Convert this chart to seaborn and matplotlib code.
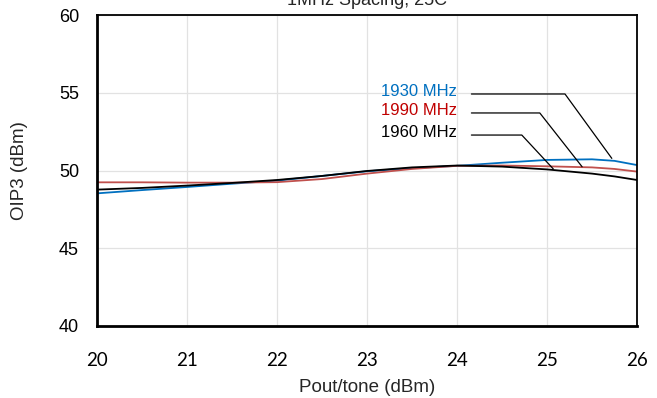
import matplotlib
matplotlib.use("Agg")
import matplotlib.pyplot as plt
import seaborn as sns
import pandas as pd

pout = [20, 20.5, 21, 21.5, 22, 22.5, 23, 23.5, 24, 24.5, 25, 25.5, 25.75, 26]
oip3_1930 = [48.53, 48.74, 48.94, 49.15, 49.35, 49.65, 49.95, 50.15, 50.3, 50.5, 50.68, 50.72, 50.62, 50.35]
oip3_1990 = [49.24, 49.24, 49.22, 49.22, 49.25, 49.45, 49.8, 50.1, 50.3, 50.32, 50.27, 50.2, 50.1, 49.93]
oip3_1960 = [48.77, 48.88, 49.03, 49.2, 49.39, 49.65, 49.97, 50.2, 50.32, 50.25, 50.07, 49.8, 49.62, 49.39]
series = ["1930 MHz", "1990 MHz", "1960 MHz"]
colors = {"1930 MHz": "#0070C0", "1990 MHz": "#C0504D", "1960 MHz": "#000000"}
text_colors = {"1930 MHz": "#0070C0", "1990 MHz": "#C00000", "1960 MHz": "#000000"}
title = "1MHz Spacing, 25C"
xlabel = "Pout/tone (dBm)"
ylabel = "OIP3 (dBm)"
xticks = [20, 21, 22, 23, 24, 25, 26]
yticks = [40, 45, 50, 55, 60]

df = pd.DataFrame({
    "Pout": pout * 3,
    "OIP3": oip3_1930 + oip3_1990 + oip3_1960,
    "Freq": [series[0]] * len(pout) + [series[1]] * len(pout) + [series[2]] * len(pout),
})

sns.set_theme(style="white")
plt.rcParams["font.family"] = ["Liberation Sans", "DejaVu Sans"]

fig = plt.figure(figsize=(6.57, 3.98), dpi=100)
ax = fig.add_axes([97 / 657, 1 - 326 / 398, 540 / 657, 311 / 398])
sns.lineplot(data=df, x="Pout", y="OIP3", hue="Freq", palette=colors,
             sort=False, legend=False, linewidth=1.3, ax=ax)

ax.set_xlim(20, 26)
ax.set_ylim(40, 60)
ax.set_xticks(xticks)
ax.set_xticklabels([str(v) for v in xticks], fontfamily=["Lato", "DejaVu Sans"], fontsize=13.5)
ax.set_yticks(yticks)
ax.grid(True, color="#E2E2E2", linewidth=0.9)
ax.tick_params(length=0, colors="#000000")
ax.tick_params(axis="x", pad=19)
ax.tick_params(axis="y", pad=13, labelsize=13)
for side in ["left", "bottom"]:
    ax.spines[side].set_color("black")
    ax.spines[side].set_linewidth(2)
for side in ["top", "right"]:
    ax.spines[side].set_color("black")
    ax.spines[side].set_linewidth(1.3)
ax.set_xlabel(xlabel, fontsize=13.5, labelpad=7)
ax.set_ylabel(ylabel, fontsize=13.5, labelpad=22)

# leader-line annotations: (text right x, y, line start x, elbow x, end x, end y)
ann = {
    "1930 MHz": (24.0, 54.92, 24.16, 25.2, 25.72, 50.78),
    "1990 MHz": (24.0, 53.7, 24.16, 24.92, 25.39, 50.24),
    "1960 MHz": (24.0, 52.28, 24.16, 24.72, 25.07, 50.1),
}
for name, (tx, ty, lx0, lx1, ex, ey) in ann.items():
    ax.text(tx, ty + 0.15, name, color=text_colors[name], fontsize=12,
            ha="right", va="center")
    ax.plot([lx0, lx1, ex], [ty, ty, ey], color="black", linewidth=0.9)

fig.text(367 / 657, 1 - 5 / 398, title, ha="center", va="baseline", fontsize=13)

fig.savefig("out.png", dpi=100)
